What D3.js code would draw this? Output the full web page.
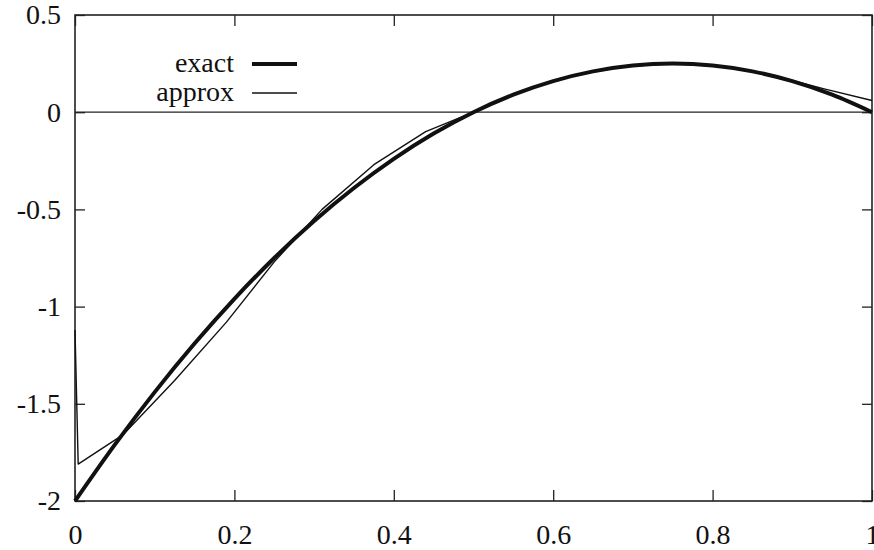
<!DOCTYPE html>
<html>
<head>
<meta charset="utf-8">
<script src="https://cdn.jsdelivr.net/npm/d3@7"></script>
<style>
  body { margin: 0; background: #fff; }
  svg text { font-family: "Liberation Serif", "Times New Roman", "DejaVu Serif", serif !important; fill: #111; }
  .axis .domain { display: none; }
  .axis line { stroke: #222; stroke-width: 1.3; }
</style>
</head>
<body>
<svg width="874" height="550"></svg>
<script>
// values
var x_ticks = [0, 0.2, 0.4, 0.6, 0.8, 1]
var y_ticks = [0.5, 0, -0.5, -1, -1.5, -2]
var tick_labels_x = ["0", "0.2", "0.4", "0.6", "0.8", "1"]
var tick_labels_y = ["0.5", "0", "-0.5", "-1", "-1.5", "-2"]

var exact_x = [0, 0.05, 0.1, 0.15, 0.2, 0.25, 0.3, 0.35, 0.4, 0.45, 0.5,
    0.55, 0.6, 0.65, 0.7, 0.75, 0.8, 0.85, 0.9, 0.95, 1]
var exact_y = [-2, -1.71, -1.44, -1.19, -0.96, -0.75, -0.56, -0.39, -0.24, -0.11, 0,
    0.09, 0.16, 0.21, 0.24, 0.25, 0.24, 0.21, 0.16, 0.09, 0]

var approx_x = [0, 0.004, 0.06, 0.125, 0.19, 0.25, 0.31, 0.375, 0.44, 0.5,
    0.56, 0.625, 0.69, 0.75, 0.81, 0.875, 0.94, 1]
var approx_y = [-1.12, -1.81, -1.66, -1.38, -1.08, -0.77, -0.50, -0.27, -0.10, 0.0,
    0.11, 0.19, 0.235, 0.25, 0.235, 0.19, 0.12, 0.06]

var legend_names = ["exact", "approx"]

function setup_svg() {
    var svg = d3.select("svg"),
        margin = { top: 15, right: 2, bottom: 49, left: 75 },
        width = svg.attr("width") - margin.left - margin.right,
        height = svg.attr("height") - margin.top - margin.bottom,
        g = svg.append("g").attr("transform", "translate(" + margin.left + "," + margin.top + ")");
    return { width, height, g, svg, margin };
}

var { width, height, g, svg } = setup_svg();

var x_scale = d3.scaleLinear().domain([0, 1]).range([0, width]);
var y_scale = d3.scaleLinear().domain([-2, 0.5]).range([height, 0]);

// axes, ticks pointing inward like gnuplot
g.append("g")
    .attr("class", "axis")
    .attr("transform", "translate(0," + height + ")")
    .call(d3.axisBottom(x_scale).tickValues(x_ticks).tickSize(-11).tickPadding(23)
        .tickFormat(function (d, i) { return tick_labels_x[i]; }))
    .selectAll("text").style("font-size", "28px");

g.append("g")
    .attr("class", "axis")
    .call(d3.axisTop(x_scale).tickValues(x_ticks).tickSize(-11).tickFormat(""));

g.append("g")
    .attr("class", "axis")
    .call(d3.axisLeft(y_scale).tickValues(y_ticks).tickSize(-10).tickPadding(14)
        .tickFormat(function (d, i) { return tick_labels_y[i]; }))
    .selectAll("text").style("font-size", "28px");

g.append("g")
    .attr("class", "axis")
    .attr("transform", "translate(" + width + ",0)")
    .call(d3.axisRight(y_scale).tickValues(y_ticks).tickSize(-10).tickFormat(""));

// zero axis
g.append("line")
    .attr("x1", 0).attr("x2", width)
    .attr("y1", y_scale(0)).attr("y2", y_scale(0))
    .attr("stroke", "#222").attr("stroke-width", 1.3);

// frame
g.append("rect")
    .attr("width", width).attr("height", height)
    .attr("fill", "none").attr("stroke", "#222").attr("stroke-width", 1.6);

var exact_data = exact_x.map(function (v, i) { return { x: v, y: exact_y[i] }; });
var approx_data = approx_x.map(function (v, i) { return { x: v, y: approx_y[i] }; });

var smooth = d3.line()
    .x(function (d) { return x_scale(d.x); })
    .y(function (d) { return y_scale(d.y); })
    .curve(d3.curveCardinal);

var straight = d3.line()
    .x(function (d) { return x_scale(d.x); })
    .y(function (d) { return y_scale(d.y); });

g.append("path")
    .datum(approx_data)
    .attr("fill", "none")
    .attr("stroke", "#111")
    .attr("stroke-width", 1.4)
    .attr("stroke-linejoin", "round")
    .attr("d", straight);

g.append("path")
    .datum(exact_data)
    .attr("fill", "none")
    .attr("stroke", "#111")
    .attr("stroke-width", 4)
    .attr("d", smooth);

// legend
var legend_widths = [4, 1.4];
var legend = svg.selectAll(".legend")
    .data(legend_names)
    .enter().append("g")
    .attr("class", "legend")
    .attr("transform", function (d, i) { return "translate(0," + (64 + i * 29) + ")"; });

legend.append("text")
    .attr("x", 234)
    .attr("y", 0)
    .attr("dy", "0.3em")
    .attr("text-anchor", "end")
    .style("font-size", "28px")
    .text(function (d) { return d; });

legend.append("line")
    .attr("x1", 252).attr("x2", 297)
    .attr("y1", 0).attr("y2", 0)
    .attr("stroke", "#111")
    .attr("stroke-width", function (d, i) { return legend_widths[i]; });
</script>
</body>
</html>
